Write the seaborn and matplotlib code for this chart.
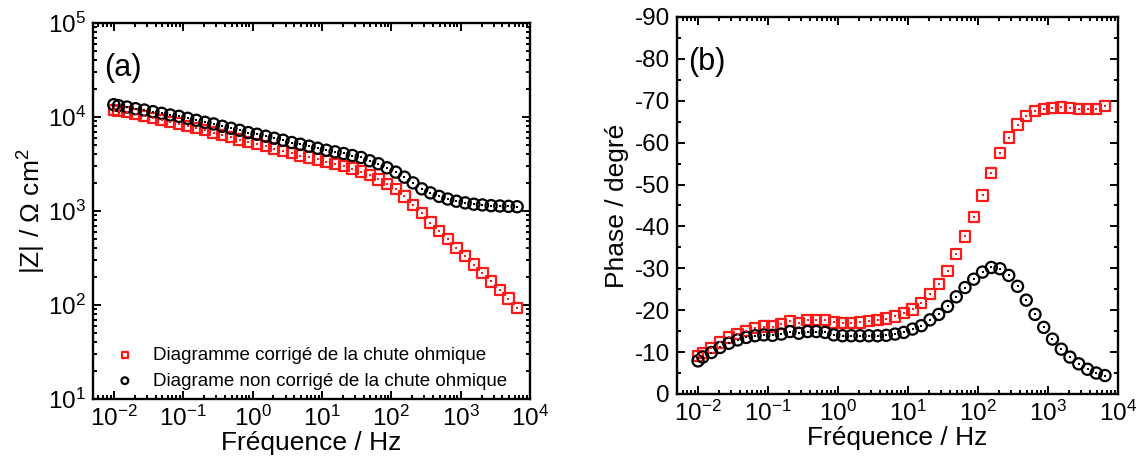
"""
Bode plots (|Z| and phase) with and without ohmic drop correction.
"""

import numpy as np
import pandas as pd
import matplotlib
matplotlib.use("Agg")
import matplotlib.pyplot as plt
from matplotlib.ticker import LogLocator, MultipleLocator, NullFormatter
import seaborn as sns


# ── Data ──────────────────────────────────────────────────────────────────────
freq = [0.0100, 0.0117, 0.0155, 0.0206, 0.0275, 0.0367, 0.0489, 0.0652,
        0.0869, 0.116, 0.155, 0.206, 0.275, 0.367, 0.489, 0.652,
        0.869, 1.16, 1.55, 2.06, 2.75, 3.67, 4.89, 6.52,
        8.69, 11.6, 15.5, 20.6, 27.5, 36.7, 48.9, 65.2,
        86.9, 116, 155, 206, 275, 367, 489, 652,
        869, 1160, 1550, 2060, 2750, 3670, 4890, 6520]

z_corr = [11860, 11590, 11300, 10760, 10250, 9750, 9290, 8850,
          8500, 8030, 7590, 7230, 6830, 6450, 6140, 5750,
          5430, 5170, 4890, 4620, 4360, 4120, 3890, 3710,
          3530, 3360, 3180, 3030, 2830, 2630, 2430, 2170,
          1950, 1700, 1430, 1160, 945, 752, 617, 500,
          407, 331, 269, 219, 178, 145, 117, 93]

z_raw = [13520, 13190, 12760, 12250, 11860, 11390, 10940, 10500,
         10160, 9680, 9220, 8780, 8430, 7960, 7590, 7220,
         6820, 6550, 6240, 5940, 5660, 5350, 5130, 4890,
         4650, 4430, 4260, 4090, 3890, 3710, 3420, 3180,
         2880, 2590, 2290, 1990, 1720, 1560, 1430, 1340,
         1270, 1220, 1180, 1160, 1140, 1130, 1120, 1110]

phase_corr = [-9.0, -9.8, -10.9, -12.3, -13.5, -14.4, -15.1, -15.7,
              -16.1, -16.1, -16.7, -17.4, -17.0, -17.7, -17.7, -17.7,
              -17.1, -16.9, -16.9, -17.1, -17.5, -17.7, -18.0, -18.5,
              -19.3, -20.2, -21.8, -23.8, -26.2, -29.4, -33.5, -37.6,
              -42.3, -47.4, -52.7, -57.5, -61.2, -64.3, -66.3, -67.5,
              -68.0, -68.2, -68.4, -68.2, -68.0, -68.0, -68.0, -68.7]

phase_raw = [-7.9, -8.8, -9.9, -11.1, -12.1, -12.9, -13.5, -13.9,
             -14.1, -14.0, -14.3, -14.9, -14.5, -14.9, -14.9, -14.7,
             -14.1, -13.9, -13.9, -13.9, -13.9, -13.9, -14.0, -14.3,
             -14.7, -15.5, -16.3, -17.7, -19.0, -20.9, -23.2, -25.4,
             -27.4, -29.1, -30.2, -29.9, -28.3, -25.7, -22.4, -19.0,
             -15.9, -13.1, -10.7, -8.8, -7.2, -5.9, -5.0, -4.4]

label_corr = "Diagramme corrigé de la chute ohmique"
label_raw = "Diagrame non corrigé de la chute ohmique"

df = pd.DataFrame({"freq": freq, "z_corr": z_corr, "z_raw": z_raw,
                   "phase_corr": phase_corr, "phase_raw": phase_raw})


# ── Style ─────────────────────────────────────────────────────────────────────
sns.set_style("ticks")
plt.rcParams["font.family"] = ["Liberation Sans", "DejaVu Sans"]
plt.rcParams["mathtext.default"] = "regular"
plt.rcParams["axes.unicode_minus"] = False
plt.rcParams["axes.linewidth"] = 1.7
for key in ("text.color", "axes.labelcolor", "axes.edgecolor",
            "xtick.color", "ytick.color"):
    plt.rcParams[key] = "black"

RED = "#ff1a1a"
BLACK = "black"
TICK_FS = 17.5
LABEL_FS = 19


def draw_series(ax, y, marker, color, size, label):
    # open marker with a tiny dot in the middle (Origin style)
    sns.scatterplot(data=df, x="freq", y=y, ax=ax, marker=marker, s=size,
                    facecolor="none", edgecolor=color, linewidth=1.6,
                    label=label, zorder=3)
    sns.scatterplot(data=df, x="freq", y=y, ax=ax, marker="s", s=2,
                    color=color, linewidth=0, zorder=4, legend=False)


def style_axes(ax):
    ax.tick_params(which="both", direction="in", top=True, right=True,
                   labelsize=TICK_FS, width=1.4)
    ax.tick_params(which="major", length=6, pad=5)
    ax.tick_params(which="minor", length=3)
    ax.set_xscale("log")
    ax.set_xlim(10 ** -2.3, 1e4)
    ax.xaxis.set_major_locator(LogLocator(base=10, numticks=20))
    ax.xaxis.set_minor_locator(LogLocator(base=10, subs=np.arange(2, 10), numticks=20))
    ax.xaxis.set_minor_formatter(NullFormatter())
    ax.set_xlabel("Fréquence / Hz", fontsize=LABEL_FS, labelpad=0)


fig = plt.figure(figsize=(11.45, 4.72), dpi=100)
ax1 = fig.add_axes([0.0812, 0.1547, 0.3817, 0.7966])
ax2 = fig.add_axes([0.5913, 0.1653, 0.3851, 0.7987])

# ── (a) modulus ───────────────────────────────────────────────────────────────
draw_series(ax1, "z_corr", "s", RED, 55, label_corr)
draw_series(ax1, "z_raw", "o", BLACK, 65, label_raw)
style_axes(ax1)
ax1.set_yscale("log")
ax1.set_ylim(10, 1e5)
ax1.yaxis.set_major_locator(LogLocator(base=10, numticks=10))
ax1.yaxis.set_minor_locator(LogLocator(base=10, subs=np.arange(2, 10), numticks=10))
ax1.yaxis.set_minor_formatter(NullFormatter())
ax1.set_ylabel("|Z| / Ω cm$^2$", fontsize=LABEL_FS, labelpad=0)
ax1.text(0.025, 0.92, "(a)", transform=ax1.transAxes, fontsize=22, va="top")
leg = ax1.legend(loc="lower left", bbox_to_anchor=(0.0, -0.01), frameon=False,
                 fontsize=13.5, handletextpad=0.5, markerscale=0.6,
                 borderaxespad=0.3, labelspacing=0.45)

# ── (b) phase ─────────────────────────────────────────────────────────────────
draw_series(ax2, "phase_corr", "s", RED, 55, None)
draw_series(ax2, "phase_raw", "o", BLACK, 65, None)
style_axes(ax2)
ax2.set_ylim(0, -90)
ax2.yaxis.set_major_locator(MultipleLocator(10))
ax2.yaxis.set_minor_locator(MultipleLocator(5))
ax2.set_ylabel("Phase / degré", fontsize=LABEL_FS, labelpad=4)
ax2.text(0.025, 0.92, "(b)", transform=ax2.transAxes, fontsize=22, va="top")
if ax2.get_legend() is not None:
    ax2.get_legend().remove()

fig.savefig("out.png", dpi=100)
